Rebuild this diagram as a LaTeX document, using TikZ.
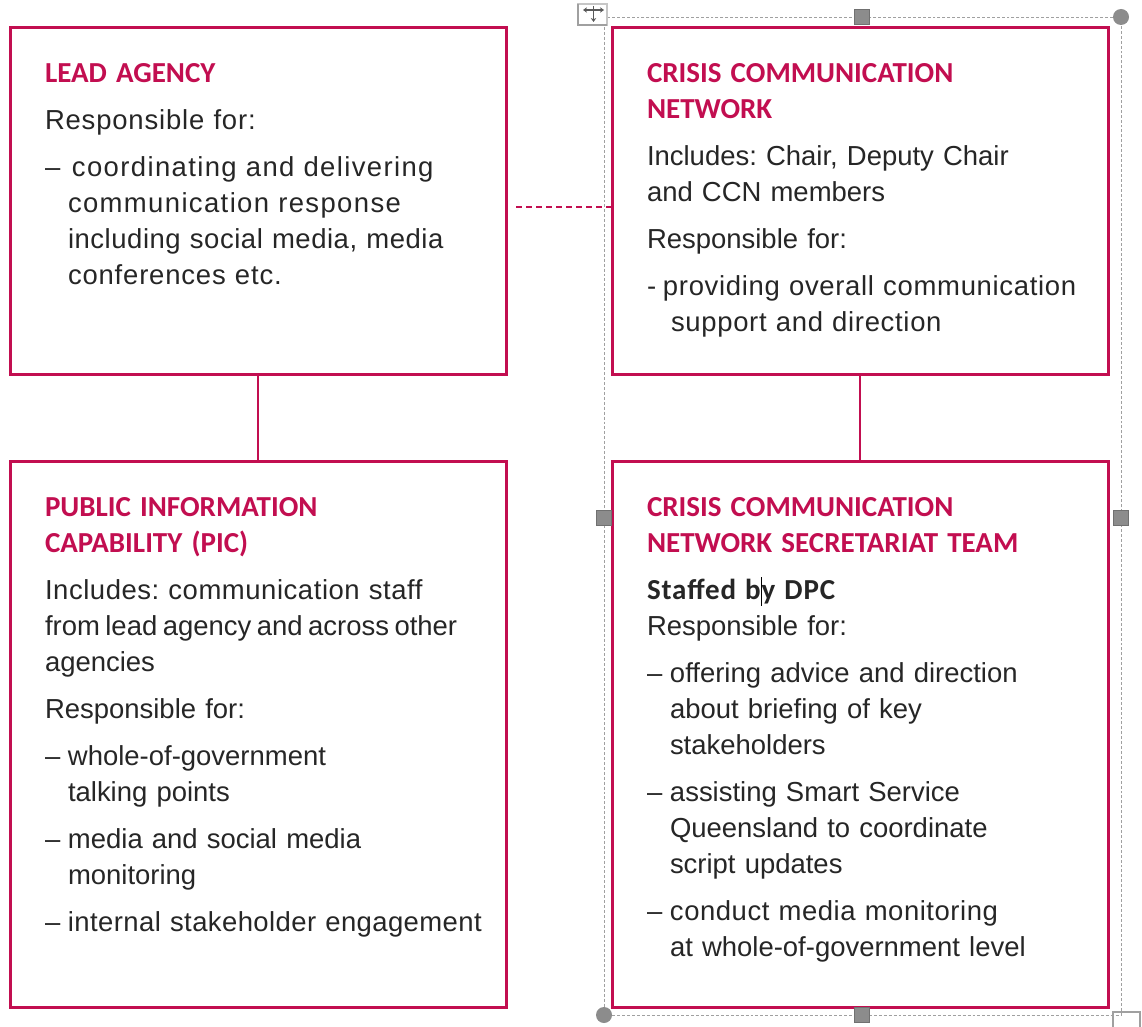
\documentclass[tikz,border=0pt]{standalone}
\usepackage{fontspec}
\setmainfont{Liberation Sans}
\newfontfamily\headfont{Carlito}
\usetikzlibrary{arrows.meta}
\frenchspacing

\definecolor{crimson}{RGB}{194,14,80}
\definecolor{inkgray}{RGB}{38,38,38}
\definecolor{handlegray}{RGB}{140,140,140}
\definecolor{framegray}{RGB}{160,160,160}

% fonts: 1 unit of the picture = 0.75pt
\newcommand\bodyfont{\fontsize{20.6pt}{27pt}\selectfont}
\newcommand\headline[1]{{\headfont\bfseries\color{crimson}\fontsize{21.75pt}{27pt}\selectfont #1}}
\newcommand\gap{\par\vspace{8.25pt}}
\newcommand\dashlead[1]{\makebox[#1][l]{–}}
\newcommand\spaced[2]{{\addfontfeature{LetterSpace=#1}#2}}
\newcommand\tightwords[2]{{\spaceskip=#1em\relax #2}}

\tikzset{
  panel/.style={draw=crimson, line width=2.25pt, inner sep=0pt, outer sep=0pt,
    minimum width=372pt},
  link/.style={draw=crimson, line width=2pt},
  looselink/.style={draw=crimson, line width=0.8pt, dash pattern=on 4.5pt off 3pt},
  bodytext/.style={anchor=base west, inner sep=0pt, outer sep=0pt, text width=348pt,
    align=left, text=inkgray, font=\bodyfont},
  selframe/.style={draw=framegray, line width=0.7pt, dash pattern=on 2.2pt off 1.5pt},
  sqhandle/.style={rectangle, fill=handlegray, draw=handlegray!80!black, line width=0.3pt,
    minimum size=11pt, inner sep=0pt},
  rdhandle/.style={circle, fill=handlegray, minimum size=12pt, inner sep=0pt},
}

\begin{document}
\begin{tikzpicture}[x=0.75pt, y=-0.75pt]
\useasboundingbox[fill=white] (0,0) rectangle (1142,1027);

% selection frame around the right-hand column
\draw[selframe] (604,17) rectangle (1121,1015);

% the four boxes
\node[panel, minimum height=259.5pt] (la)  at (258,201) {};
\node[panel, minimum height=259.5pt] (ccn) at (860,201) {};
\node[panel, minimum height=409.5pt] (pic) at (258,734) {};
\node[panel, minimum height=409.5pt] (st)  at (860,734) {};

% connectors
\draw[link] (la) -- (pic);
\draw[link] (ccn) -- (st);
\coordinate (loose-start) at (516,207);
\draw[looselink] (loose-start) -- (ccn.west |- loose-start);

% box contents
\node[bodytext] (la-text) at (45,83) {%
  \headline{LEAD AGENCY}\gap
  \spaced{3}{Responsible for:}\gap
  \spaced{5}{\dashlead{20.25pt}coordinating and delivering}\\
  \hspace*{17.25pt}\spaced{5}{communication response}\\
  \hspace*{17.25pt}\spaced{2}{including social media, media}\\
  \hspace*{17.25pt}\spaced{3}{conferences etc.}};

\node[bodytext] (ccn-text) at (647,83) {%
  \headline{CRISIS COMMUNICATION\\NETWORK}\gap
  Includes: Chair, Deputy Chair\\
  and CCN members\gap
  Responsible for:\gap
  \spaced{2.5}{\makebox[12pt][l]{-}providing overall communication}\\
  \hspace*{18pt}\spaced{2.5}{support and direction}};

\node[bodytext] (pic-text) at (45,516) {%
  \headline{PUBLIC INFORMATION\\CAPABILITY (PIC)}\gap
  \spaced{2}{Includes: communication staff}\\
  \tightwords{0.2}{from lead agency and across other}\\
  agencies\gap
  Responsible for:\gap
  \dashlead{17.25pt}whole-of-government\\
  \hspace*{17.25pt}talking points\gap
  \dashlead{17.25pt}media and social media\\
  \hspace*{17.25pt}monitoring\gap
  \dashlead{17.25pt}\spaced{1.5}{internal stakeholder engagement}};

\node[bodytext] (st-text) at (647,516) {%
  \headline{CRISIS COMMUNICATION\\NETWORK SECRETARIAT TEAM}\gap
  {\headfont\bfseries\fontsize{21.75pt}{27pt}\selectfont\addfontfeature{LetterSpace=3}Staffed by DPC}\\
  Responsible for:\gap
  \dashlead{17.25pt}offering advice and direction\\
  \hspace*{17.25pt}about briefing of key\\
  \hspace*{17.25pt}stakeholders\gap
  \dashlead{17.25pt}assisting Smart Service\\
  \hspace*{17.25pt}Queensland to coordinate\\
  \hspace*{17.25pt}script updates\gap
  \dashlead{17.25pt}\spaced{2}{conduct media monitoring}\\
  \hspace*{17.25pt}at whole-of-government level};

% text cursor
\draw[black, line width=0.7pt] (761,577) -- (761,606);

% selection handles
\node[sqhandle] (h-top) at (862,17) {};
\node[sqhandle] (h-left) at (604,518) {};
\node[sqhandle] (h-right) at (1121,518) {};
\node[sqhandle] (h-bottom) at (862,1015) {};
\node[rdhandle] (h-ne) at (1121,17) {};
\node[rdhandle] (h-sw) at (604,1015) {};
\draw[draw=framegray, line width=2pt] (1113,1012) rectangle (1140,1040);

% move grip
\draw[draw=framegray!60, line width=0.8pt, fill=white] (578,4) rectangle (607,25);
\draw[draw=framegray, line width=0.8pt] (578,4) -- (578,25) -- (607,25);
\draw[draw=black!65, line width=1pt, {Stealth[length=3pt,width=4pt]}-{Stealth[length=3pt,width=4pt]}] (583,10) -- (604,10);
\draw[draw=black!65, line width=1pt, -{Stealth[length=3pt,width=4pt]}] (593.5,6) -- (593.5,22);
\end{tikzpicture}
\end{document}
